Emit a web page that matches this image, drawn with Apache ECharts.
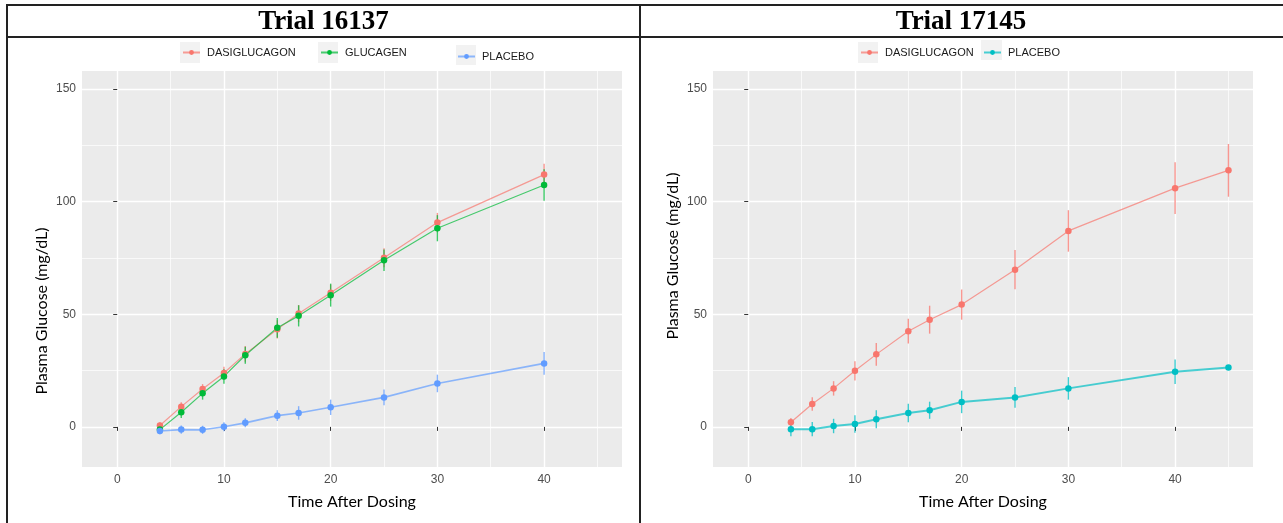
<!DOCTYPE html>
<html><head><meta charset="utf-8">
<script src="https://cdn.jsdelivr.net/npm/echarts@6/dist/echarts.min.js"></script>
<style>
html,body{margin:0;padding:0;background:#fff;}
#c1,#c2{position:absolute;left:0;top:0;width:1283px;height:523px;}
</style></head><body>
<div id="c1"></div><div id="c2"></div>
<script>
// ---------- data: Trial 16137 ----------
const timeA = [4, 6, 8, 10, 12, 15, 17, 20, 25, 30, 40];
const dasiA = [0.6, 9.0, 16.8, 23.9, 32.4, 43.3, 50.3, 59.6, 75.1, 90.7, 112.0];
const dasiErrA = [1.5, 2.0, 2.2, 2.8, 3.5, 4.0, 3.8, 3.6, 4.2, 4.3, 4.8];
const glucA = [-1.2, 6.5, 14.9, 22.4, 31.8, 44.0, 49.3, 58.5, 74.0, 88.2, 107.4];
const glucErrA = [1.8, 2.5, 2.8, 3.2, 3.8, 4.4, 4.7, 5.1, 4.8, 5.8, 7.0];
const placA = [-1.8, -1.2, -1.3, 0.1, 1.8, 5.0, 6.2, 8.7, 13.1, 19.3, 28.2];
const placErrA = [1.5, 1.8, 1.8, 2.0, 2.0, 2.4, 3.0, 3.4, 3.5, 3.9, 5.0];
// ---------- data: Trial 17145 ----------
const timeB = [4, 6, 8, 10, 12, 15, 17, 20, 25, 30, 40, 45];
const dasiB = [2.1, 10.2, 17.1, 24.9, 32.2, 42.5, 47.6, 54.3, 69.8, 87.0, 106.0, 113.9];
const dasiErrB = [1.8, 3.0, 3.2, 4.3, 5.0, 5.5, 6.2, 6.7, 8.7, 9.2, 11.5, 11.7];
const placB = [-1.0, -1.0, 0.4, 1.3, 3.4, 6.2, 7.4, 11.1, 13.1, 17.1, 24.5, 26.4];
const placErrB = [3.2, 3.2, 3.2, 3.9, 4.0, 4.1, 3.8, 5.0, 4.6, 5.0, 5.4, 0];
// ---------- ticks ----------
const xTicks = [0, 10, 20, 30, 40];
const xMinor = [5, 15, 25, 35, 45];
const yTicks = [0, 50, 100, 150];
const yMinor = [25, 75, 125];
const titles = ['Trial 16137', 'Trial 17145'];

const RED = '#F8766D', GREEN = '#00BA38', BLUE = '#619CFF', TEAL = '#00BFC4';
const XMIN = -3.3, XMAX = 47.3, YMIN = -17.8, YMAX = 158;

function pairs(t, v) { return t.map((x, i) => [x, v[i]]); }
function bars(t, v, e) { return t.map((x, i) => [x, v[i] - e[i], v[i] + e[i]]); }

function lineSeries(name, t, v, color, w) {
  return {
    type: 'line', name, data: pairs(t, v), z: 3,
    symbol: 'circle', symbolSize: 6.5, showSymbol: true,
    itemStyle: { color },
    lineStyle: { color, width: w, opacity: 0.7 },
    emphasis: { disabled: true }, animation: false
  };
}
function errSeries(name, t, v, e, color) {
  return {
    type: 'custom', name, data: bars(t, v, e), z: 2, silent: true,
    itemStyle: { color },
    encode: { x: 0, y: [1, 2] },
    renderItem: function (params, api) {
      const a = api.coord([api.value(0), api.value(1)]);
      const b = api.coord([api.value(0), api.value(2)]);
      return { type: 'line', shape: { x1: a[0], y1: a[1], x2: b[0], y2: b[1] },
               style: { stroke: color, lineWidth: 1.4, opacity: 0.75 } };
    },
    animation: false
  };
}

const labelFont = { color: '#4D4D4D', fontSize: 12, fontFamily: 'Liberation Sans' };
const nameFont = { color: '#000', fontSize: 16, fontFamily: 'Lato' };

function axes(left, yShiftPad) {
  return {
    grid: { left, top: 71, width: 540, height: 396, show: true, backgroundColor: '#EBEBEB', borderWidth: 0 },
    xAxis: [
      { type: 'value', min: XMIN, max: XMAX, position: 'bottom',
        axisLine: { show: false },
        axisTick: { show: true, length: 4, customValues: xTicks, lineStyle: { color: '#333', width: 1 } },
        axisLabel: Object.assign({ customValues: xTicks, margin: 7 }, labelFont),
        splitLine: { show: true, lineStyle: { color: '#FFFFFF', width: 1.4 } },
        name: 'Time After Dosing', nameLocation: 'middle', nameGap: 27, nameTextStyle: nameFont },
      { type: 'value', min: XMIN, max: XMAX, position: 'top',
        axisLine: { show: false }, axisTick: { show: false, customValues: xMinor },
        axisLabel: { show: false }, splitLine: { show: true, lineStyle: { color: '#FFFFFF', width: 0.7 } } }
    ],
    yAxis: [
      { type: 'value', min: YMIN, max: YMAX, position: 'left',
        axisLine: { show: false },
        axisTick: { show: true, length: 4, customValues: yTicks, lineStyle: { color: '#333', width: 1 } },
        axisLabel: Object.assign({ customValues: yTicks, margin: 6 }, labelFont),
        splitLine: { show: true, lineStyle: { color: '#FFFFFF', width: 1.4 } },
        name: 'Plasma Glucose (mg/dL)', nameLocation: 'middle', nameGap: 32,
        nameTextStyle: Object.assign({ padding: yShiftPad }, nameFont) },
      { type: 'value', min: YMIN, max: YMAX, position: 'right',
        axisLine: { show: false }, axisTick: { show: false, customValues: yMinor },
        axisLabel: { show: false }, splitLine: { show: true, lineStyle: { color: '#FFFFFF', width: 0.7 } } }
    ]
  };
}

function legendItem(name, left, top) {
  return { data: [name], left, top, padding: 0, itemWidth: 17, itemHeight: 6, selectedMode: false,
           textStyle: { fontFamily: 'Liberation Sans', fontSize: 11, color: '#1A1A1A', padding: [0, 0, 0, 2] } };
}
function keyBg(x, y, w, h) {
  return { type: 'rect', shape: { x, y, width: w, height: h }, style: { fill: '#F2F2F2' }, z: -1, silent: true };
}
const borderStyle = { stroke: '#222', lineWidth: 2 };
function seg(x1, y1, x2, y2) {
  return { type: 'line', shape: { x1, y1, x2, y2 }, style: borderStyle, silent: true };
}
function titleText(text, x) {
  return { type: 'text', x, y: 22, silent: true,
           style: { text, align: 'center', verticalAlign: 'middle', fill: '#000',
                    font: 'bold 27px "Liberation Serif", "Times New Roman", serif' } };
}

// ---------- left chart ----------
const optA = Object.assign(axes(82, [0, 84, 0, 0]), {
  animation: false,
  legend: [legendItem('DASIGLUCAGON', 182, 47), legendItem('GLUCAGEN', 320, 47), legendItem('PLACEBO', 457, 51)],
  graphic: [
    seg(6, 5, 1283, 5), seg(6, 37, 1283, 37), seg(7, 4, 7, 523), seg(640, 4, 640, 523),
    titleText(titles[0], 323.5), titleText(titles[1], 961),
    keyBg(180, 42, 20, 21), keyBg(318, 42, 20, 21), keyBg(456, 45, 20, 20)
  ],
  series: [
    lineSeries('DASIGLUCAGON', timeA, dasiA, RED, 1.2),
    lineSeries('GLUCAGEN', timeA, glucA, GREEN, 1.2),
    lineSeries('PLACEBO', timeA, placA, BLUE, 1.6),
    errSeries('DASIGLUCAGON', timeA, dasiA, dasiErrA, RED),
    errSeries('GLUCAGEN', timeA, glucA, glucErrA, GREEN),
    errSeries('PLACEBO', timeA, placA, placErrA, BLUE)
  ]
});
// ---------- right chart ----------
const optB = Object.assign(axes(713, [0, 0, 0, 26]), {
  animation: false,
  legend: [legendItem('DASIGLUCAGON', 860, 47), legendItem('PLACEBO', 983, 47)],
  graphic: [keyBg(858, 42, 20, 21), keyBg(981, 40, 21, 20)],
  series: [
    lineSeries('DASIGLUCAGON', timeB, dasiB, RED, 1.2),
    lineSeries('PLACEBO', timeB, placB, TEAL, 2),
    errSeries('DASIGLUCAGON', timeB, dasiB, dasiErrB, RED),
    errSeries('PLACEBO', timeB, placB, placErrB, TEAL)
  ]
});

echarts.init(document.getElementById('c1')).setOption(optA);
echarts.init(document.getElementById('c2')).setOption(optB);
</script>
</body></html>
